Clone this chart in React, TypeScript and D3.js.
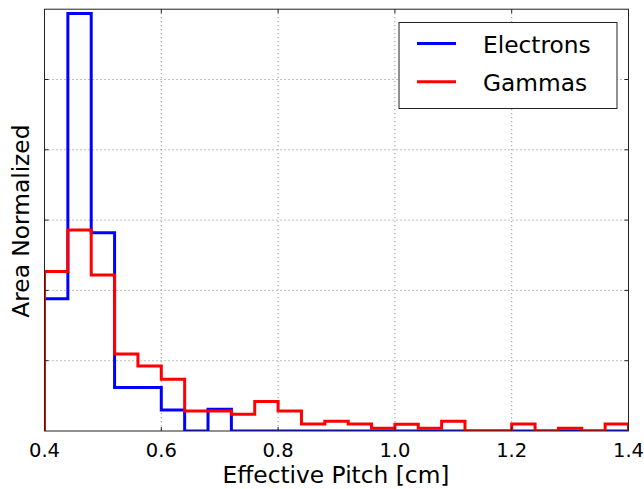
import React from "react";
import * as d3 from "d3";

// Histogram bin edges: 0.40 to 1.40 in steps of 0.04
const binEdges: number[] = [
  0.4, 0.44, 0.48, 0.52, 0.56, 0.6, 0.64, 0.68, 0.72, 0.76, 0.8, 0.84, 0.88,
  0.92, 0.96, 1.0, 1.04, 1.08, 1.12, 1.16, 1.2, 1.24, 1.28, 1.32, 1.36, 1.4,
];

// Area-normalized counts per bin
const electrons: number[] = [
  1.88, 5.94, 2.82, 0.62, 0.62, 0.3, 0.0, 0.31, 0, 0, 0, 0, 0, 0, 0, 0, 0, 0,
  0, 0, 0, 0, 0, 0, 0,
];
const gammas: number[] = [
  2.27, 2.86, 2.22, 1.095, 0.925, 0.735, 0.285, 0.285, 0.24, 0.42, 0.285, 0.1,
  0.14, 0.1, 0.04, 0.095, 0.04, 0.14, 0, 0, 0.1, 0, 0.04, 0, 0.1,
];

const xTicks: number[] = [0.4, 0.6, 0.8, 1.0, 1.2, 1.4];
const yTicks: number[] = [1, 2, 3, 4, 5];

const seriesNames: string[] = ["Electrons", "Gammas"];
const seriesColors: string[] = ["#0000ff", "#ff0000"];

const W = 644;
const H = 489;
const left = 44.5;
const right = 628.5;
const top = 9.2;
const bottom = 431;
const font = "'DejaVu Sans', sans-serif";

export default function App() {
  const x = d3.scaleLinear().domain([0.4, 1.4]).range([left, right]);
  const y = d3.scaleLinear().domain([0, 6]).range([bottom, top]);

  const stepPath = (vals: number[]) => {
    const pts: [number, number][] = [[binEdges[0], 0]];
    vals.forEach((v, i) => {
      pts.push([binEdges[i], v]);
      pts.push([binEdges[i + 1], v]);
    });
    pts.push([binEdges[binEdges.length - 1], 0]);
    return d3
      .line<[number, number]>()
      .x((d) => x(d[0]))
      .y((d) => y(d[1]))(pts) as string;
  };

  const series = [electrons, gammas];

  return (
    <svg
      width={W}
      height={H}
      style={{ position: "absolute", left: 0, top: 0, background: "#fff" }}
    >
      <defs>
        <clipPath id="plot-clip">
          <rect x={left} y={top - 2} width={right - left} height={bottom - top + 2} />
        </clipPath>
      </defs>

      {/* grid */}
      <g stroke="#808080" strokeWidth={1} strokeDasharray="1,3">
        {xTicks.slice(1, -1).map((t) => (
          <line key={"gx" + t} x1={x(t)} x2={x(t)} y1={top} y2={bottom} />
        ))}
        {yTicks.map((t) => (
          <line key={"gy" + t} x1={left} x2={right} y1={y(t)} y2={y(t)} />
        ))}
      </g>

      {/* histograms */}
      <g clipPath="url(#plot-clip)">
        {series.map((vals, i) => (
          <path
            key={seriesNames[i]}
            d={stepPath(vals)}
            fill="none"
            stroke={seriesColors[i]}
            strokeWidth={3}
            strokeLinejoin="miter"
          />
        ))}
      </g>

      {/* frame */}
      <rect
        x={left}
        y={top}
        width={right - left}
        height={bottom - top}
        fill="none"
        stroke="#222"
        strokeWidth={1}
      />

      {/* ticks (inside, all four sides) */}
      <g stroke="#222" strokeWidth={1}>
        {xTicks.map((t) => (
          <g key={"tx" + t}>
            <line x1={x(t)} x2={x(t)} y1={bottom} y2={bottom - 4} />
            <line x1={x(t)} x2={x(t)} y1={top} y2={top + 4} />
          </g>
        ))}
        {yTicks.map((t) => (
          <g key={"ty" + t}>
            <line x1={left} x2={left + 4} y1={y(t)} y2={y(t)} />
            <line x1={right} x2={right - 4} y1={y(t)} y2={y(t)} />
          </g>
        ))}
      </g>

      {/* x tick labels */}
      <g fontFamily={font} fontSize={19.5} fill="#000" textAnchor="middle">
        {xTicks.map((t) => (
          <text key={"lx" + t} x={x(t)} y={457}>
            {d3.format(".1f")(t)}
          </text>
        ))}
      </g>

      {/* axis labels */}
      <text
        x={336}
        y={483}
        fontFamily={font}
        fontSize={23.3}
        textAnchor="middle"
        fill="#000"
      >
        Effective Pitch [cm]
      </text>
      <text
        transform={`translate(28.5,${(top + bottom) / 2 + 1}) rotate(-90)`}
        fontFamily={font}
        fontSize={23.3}
        textAnchor="middle"
        fill="#000"
      >
        Area Normalized
      </text>

      {/* legend */}
      <g>
        <rect x={399} y={22.5} width={218} height={86} fill="#fff" stroke="#222" strokeWidth={1} />
        {seriesNames.map((name, i) => (
          <g key={"leg" + name}>
            <line
              x1={417}
              x2={456}
              y1={43.5 + i * 38.3}
              y2={43.5 + i * 38.3}
              stroke={seriesColors[i]}
              strokeWidth={3}
            />
            <text
              x={483}
              y={53 + i * 38.3}
              fontFamily={font}
              fontSize={23.3}
              fill="#000"
            >
              {name}
            </text>
          </g>
        ))}
      </g>
    </svg>
  );
}
